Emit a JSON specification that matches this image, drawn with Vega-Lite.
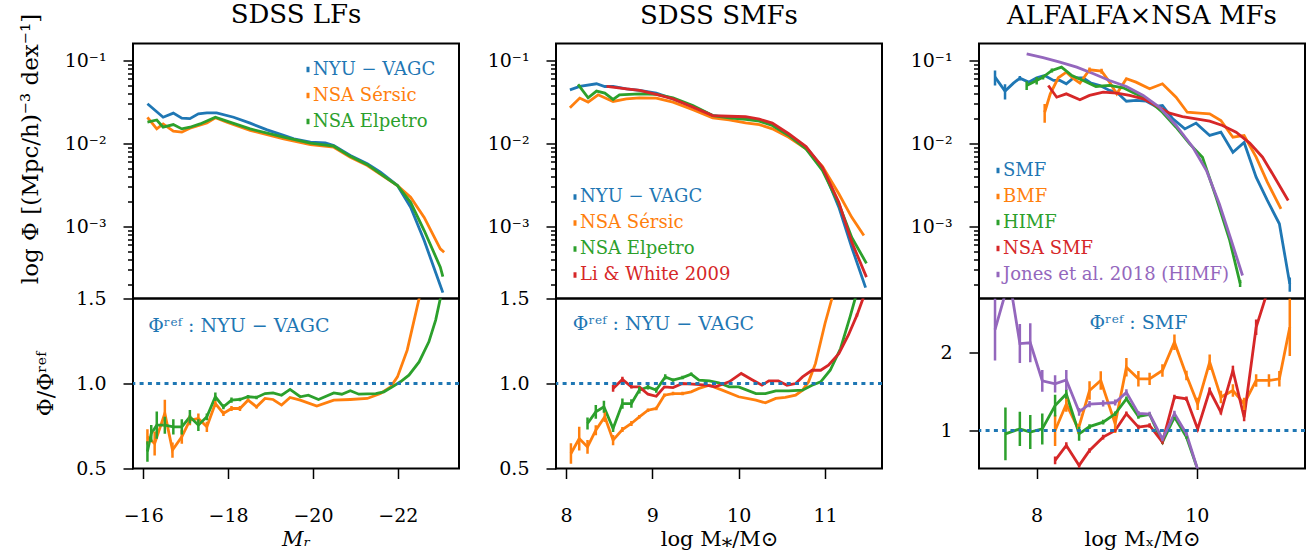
{
"$schema": "https://vega.github.io/schema/vega-lite/v6.json",
"background": "white",
"padding": {"left": 17, "top": 0.5, "right": 5, "bottom": 5},
"datasets": {
"lf_top": [
{"s":"NYU − VAGC","x":-16.10,"y":0.0301},{"s":"NYU − VAGC","x":-16.47,"y":0.0207},{"s":"NYU − VAGC","x":-16.71,"y":0.0232},{"s":"NYU − VAGC","x":-16.91,"y":0.0202},{"s":"NYU − VAGC","x":-17.10,"y":0.0199},{"s":"NYU − VAGC","x":-17.30,"y":0.0228},{"s":"NYU − VAGC","x":-17.50,"y":0.0234},{"s":"NYU − VAGC","x":-17.73,"y":0.0234},{"s":"NYU − VAGC","x":-18.13,"y":0.0207},{"s":"NYU − VAGC","x":-18.52,"y":0.0176},{"s":"NYU − VAGC","x":-18.92,"y":0.0146},{"s":"NYU − VAGC","x":-19.31,"y":0.0125},{"s":"NYU − VAGC","x":-19.55,"y":0.0114},{"s":"NYU − VAGC","x":-19.94,"y":0.01037},{"s":"NYU − VAGC","x":-20.29,"y":0.0102},{"s":"NYU − VAGC","x":-20.49,"y":0.00946},{"s":"NYU − VAGC","x":-20.88,"y":0.00716},{"s":"NYU − VAGC","x":-21.28,"y":0.00569},{"s":"NYU − VAGC","x":-21.59,"y":0.00452},{"s":"NYU − VAGC","x":-21.99,"y":0.00312},{"s":"NYU − VAGC","x":-22.30,"y":0.00171},{"s":"NYU − VAGC","x":-22.62,"y":0.000678},{"s":"NYU − VAGC","x":-23.0,"y":0.000195},{"s":"NYU − VAGC","x":-23.06,"y":0.00016},
{"s":"NSA Sérsic","x":-16.10,"y":0.0207},{"s":"NSA Sérsic","x":-16.32,"y":0.0150},{"s":"NSA Sérsic","x":-16.47,"y":0.0172},{"s":"NSA Sérsic","x":-16.71,"y":0.0141},{"s":"NSA Sérsic","x":-16.91,"y":0.0137},{"s":"NSA Sérsic","x":-17.10,"y":0.0153},{"s":"NSA Sérsic","x":-17.50,"y":0.0177},{"s":"NSA Sérsic","x":-17.70,"y":0.0204},{"s":"NSA Sérsic","x":-17.97,"y":0.0181},{"s":"NSA Sérsic","x":-18.52,"y":0.0144},{"s":"NSA Sérsic","x":-19.31,"y":0.0114},{"s":"NSA Sérsic","x":-19.94,"y":0.00972},{"s":"NSA Sérsic","x":-20.49,"y":0.00903},{"s":"NSA Sérsic","x":-20.88,"y":0.00684},{"s":"NSA Sérsic","x":-21.28,"y":0.00543},{"s":"NSA Sérsic","x":-21.99,"y":0.00312},{"s":"NSA Sérsic","x":-22.30,"y":0.00225},{"s":"NSA Sérsic","x":-22.62,"y":0.00129},{"s":"NSA Sérsic","x":-23.0,"y":0.00054},{"s":"NSA Sérsic","x":-23.09,"y":0.00049},
{"s":"NSA Elpetro","x":-16.10,"y":0.0181},{"s":"NSA Elpetro","x":-16.32,"y":0.0192},{"s":"NSA Elpetro","x":-16.47,"y":0.0157},{"s":"NSA Elpetro","x":-16.71,"y":0.0169},{"s":"NSA Elpetro","x":-16.91,"y":0.0150},{"s":"NSA Elpetro","x":-17.10,"y":0.0157},{"s":"NSA Elpetro","x":-17.34,"y":0.0172},{"s":"NSA Elpetro","x":-17.70,"y":0.0207},{"s":"NSA Elpetro","x":-17.97,"y":0.0186},{"s":"NSA Elpetro","x":-18.52,"y":0.0150},{"s":"NSA Elpetro","x":-19.31,"y":0.0119},{"s":"NSA Elpetro","x":-19.94,"y":0.0101},{"s":"NSA Elpetro","x":-20.49,"y":0.00928},{"s":"NSA Elpetro","x":-20.88,"y":0.0070},{"s":"NSA Elpetro","x":-21.28,"y":0.00556},{"s":"NSA Elpetro","x":-21.99,"y":0.00312},{"s":"NSA Elpetro","x":-22.30,"y":0.00196},{"s":"NSA Elpetro","x":-22.62,"y":0.000895},{"s":"NSA Elpetro","x":-23.0,"y":0.000324},{"s":"NSA Elpetro","x":-23.06,"y":0.00025}
],
"lf_ratio": [
{"s":"NSA Sérsic","x":-16.10,"y":0.686,"e":0.045},{"s":"NSA Sérsic","x":-16.27,"y":0.647,"e":0.07},{"s":"NSA Sérsic","x":-16.51,"y":0.824,"e":0.08},{"s":"NSA Sérsic","x":-16.69,"y":0.608,"e":0.045},{"s":"NSA Sérsic","x":-16.91,"y":0.686,"e":0.04},{"s":"NSA Sérsic","x":-17.10,"y":0.784,"e":0.03},{"s":"NSA Sérsic","x":-17.30,"y":0.794,"e":0.03},{"s":"NSA Sérsic","x":-17.50,"y":0.745,"e":0.03},{"s":"NSA Sérsic","x":-17.70,"y":0.882,"e":0.02},{"s":"NSA Sérsic","x":-17.89,"y":0.824,"e":0.015},{"s":"NSA Sérsic","x":-18.08,"y":0.853,"e":0.015},{"s":"NSA Sérsic","x":-18.28,"y":0.853,"e":0.015},{"s":"NSA Sérsic","x":-18.47,"y":0.902,"e":0.01},{"s":"NSA Sérsic","x":-18.67,"y":0.863,"e":0.01},{"s":"NSA Sérsic","x":-18.87,"y":0.912,"e":0},{"s":"NSA Sérsic","x":-19.06,"y":0.906,"e":0},{"s":"NSA Sérsic","x":-19.26,"y":0.873,"e":0},{"s":"NSA Sérsic","x":-19.46,"y":0.918,"e":0},{"s":"NSA Sérsic","x":-19.70,"y":0.902,"e":0},{"s":"NSA Sérsic","x":-20.09,"y":0.867,"e":0},{"s":"NSA Sérsic","x":-20.49,"y":0.902,"e":0},{"s":"NSA Sérsic","x":-20.88,"y":0.906,"e":0},{"s":"NSA Sérsic","x":-21.28,"y":0.912,"e":0},{"s":"NSA Sérsic","x":-21.59,"y":0.941,"e":0},{"s":"NSA Sérsic","x":-21.83,"y":0.980,"e":0},{"s":"NSA Sérsic","x":-21.99,"y":1.039,"e":0},{"s":"NSA Sérsic","x":-22.22,"y":1.196,"e":0},{"s":"NSA Sérsic","x":-22.50,"y":1.5,"e":0},{"s":"NSA Sérsic","x":-22.75,"y":2.0,"e":0},{"s":"NSA Sérsic","x":-23.1,"y":3.0,"e":0},
{"s":"NSA Elpetro","x":-16.10,"y":0.60,"e":0.06},{"s":"NSA Elpetro","x":-16.19,"y":0.706,"e":0.05},{"s":"NSA Elpetro","x":-16.32,"y":0.755,"e":0.08},{"s":"NSA Elpetro","x":-16.51,"y":0.755,"e":0.05},{"s":"NSA Elpetro","x":-16.71,"y":0.745,"e":0.045},{"s":"NSA Elpetro","x":-16.91,"y":0.745,"e":0.045},{"s":"NSA Elpetro","x":-17.10,"y":0.804,"e":0.04},{"s":"NSA Elpetro","x":-17.30,"y":0.755,"e":0.035},{"s":"NSA Elpetro","x":-17.50,"y":0.804,"e":0.02},{"s":"NSA Elpetro","x":-17.70,"y":0.922,"e":0.025},{"s":"NSA Elpetro","x":-17.89,"y":0.863,"e":0.015},{"s":"NSA Elpetro","x":-18.08,"y":0.902,"e":0.015},{"s":"NSA Elpetro","x":-18.28,"y":0.906,"e":0.01},{"s":"NSA Elpetro","x":-18.47,"y":0.922,"e":0.01},{"s":"NSA Elpetro","x":-18.67,"y":0.918,"e":0.01},{"s":"NSA Elpetro","x":-18.87,"y":0.941,"e":0},{"s":"NSA Elpetro","x":-19.06,"y":0.945,"e":0},{"s":"NSA Elpetro","x":-19.26,"y":0.931,"e":0},{"s":"NSA Elpetro","x":-19.46,"y":0.965,"e":0},{"s":"NSA Elpetro","x":-19.70,"y":0.922,"e":0},{"s":"NSA Elpetro","x":-19.89,"y":0.931,"e":0},{"s":"NSA Elpetro","x":-20.13,"y":0.906,"e":0},{"s":"NSA Elpetro","x":-20.49,"y":0.945,"e":0},{"s":"NSA Elpetro","x":-20.68,"y":0.937,"e":0},{"s":"NSA Elpetro","x":-20.88,"y":0.957,"e":0},{"s":"NSA Elpetro","x":-21.08,"y":0.937,"e":0},{"s":"NSA Elpetro","x":-21.48,"y":0.941,"e":0},{"s":"NSA Elpetro","x":-21.67,"y":0.951,"e":0},{"s":"NSA Elpetro","x":-21.87,"y":0.980,"e":0},{"s":"NSA Elpetro","x":-22.06,"y":1.010,"e":0},{"s":"NSA Elpetro","x":-22.26,"y":1.049,"e":0},{"s":"NSA Elpetro","x":-22.50,"y":1.127,"e":0},{"s":"NSA Elpetro","x":-22.73,"y":1.245,"e":0},{"s":"NSA Elpetro","x":-22.89,"y":1.373,"e":0},{"s":"NSA Elpetro","x":-23.0,"y":1.5,"e":0},{"s":"NSA Elpetro","x":-23.06,"y":1.6,"e":0}
],
"smf_top": [
{"s":"NYU − VAGC","x":8.046,"y":0.0443},{"s":"NYU − VAGC","x":8.16,"y":0.0486},{"s":"NYU − VAGC","x":8.354,"y":0.0524},{"s":"NYU − VAGC","x":8.45,"y":0.0486},{"s":"NYU − VAGC","x":8.546,"y":0.0486},{"s":"NYU − VAGC","x":8.70,"y":0.0456},{"s":"NYU − VAGC","x":8.854,"y":0.0435},{"s":"NYU − VAGC","x":9.046,"y":0.0404},{"s":"NYU − VAGC","x":9.24,"y":0.0345},{"s":"NYU − VAGC","x":9.47,"y":0.0279},{"s":"NYU − VAGC","x":9.70,"y":0.0217},{"s":"NYU − VAGC","x":9.89,"y":0.0207},{"s":"NYU − VAGC","x":10.08,"y":0.0204},{"s":"NYU − VAGC","x":10.24,"y":0.0193},{"s":"NYU − VAGC","x":10.39,"y":0.0172},{"s":"NYU − VAGC","x":10.58,"y":0.0125},{"s":"NYU − VAGC","x":10.78,"y":0.00903},{"s":"NYU − VAGC","x":10.97,"y":0.00519},{"s":"NYU − VAGC","x":11.16,"y":0.00171},{"s":"NYU − VAGC","x":11.31,"y":0.00056},{"s":"NYU − VAGC","x":11.47,"y":0.000184},
{"s":"NSA Sérsic","x":8.046,"y":0.0269},{"s":"NSA Sérsic","x":8.16,"y":0.0352},{"s":"NSA Sérsic","x":8.257,"y":0.0315},{"s":"NSA Sérsic","x":8.373,"y":0.0386},{"s":"NSA Sérsic","x":8.546,"y":0.0321},{"s":"NSA Sérsic","x":8.70,"y":0.0345},{"s":"NSA Sérsic","x":8.854,"y":0.0355},{"s":"NSA Sérsic","x":9.046,"y":0.0352},{"s":"NSA Sérsic","x":9.24,"y":0.0315},{"s":"NSA Sérsic","x":9.47,"y":0.0255},{"s":"NSA Sérsic","x":9.70,"y":0.0204},{"s":"NSA Sérsic","x":9.89,"y":0.0193},{"s":"NSA Sérsic","x":10.08,"y":0.0177},{"s":"NSA Sérsic","x":10.24,"y":0.0169},{"s":"NSA Sérsic","x":10.39,"y":0.0150},{"s":"NSA Sérsic","x":10.58,"y":0.0119},{"s":"NSA Sérsic","x":10.78,"y":0.00863},{"s":"NSA Sérsic","x":10.97,"y":0.0053},{"s":"NSA Sérsic","x":11.16,"y":0.00248},{"s":"NSA Sérsic","x":11.31,"y":0.00129},{"s":"NSA Sérsic","x":11.45,"y":0.00078},
{"s":"NSA Elpetro","x":8.14,"y":0.0514},{"s":"NSA Elpetro","x":8.257,"y":0.0355},{"s":"NSA Elpetro","x":8.354,"y":0.0428},{"s":"NSA Elpetro","x":8.45,"y":0.0404},{"s":"NSA Elpetro","x":8.546,"y":0.0339},{"s":"NSA Elpetro","x":8.62,"y":0.0386},{"s":"NSA Elpetro","x":8.854,"y":0.0396},{"s":"NSA Elpetro","x":9.046,"y":0.0390},{"s":"NSA Elpetro","x":9.24,"y":0.0355},{"s":"NSA Elpetro","x":9.47,"y":0.0287},{"s":"NSA Elpetro","x":9.70,"y":0.0217},{"s":"NSA Elpetro","x":9.89,"y":0.0204},{"s":"NSA Elpetro","x":10.08,"y":0.0195},{"s":"NSA Elpetro","x":10.24,"y":0.0186},{"s":"NSA Elpetro","x":10.39,"y":0.0165},{"s":"NSA Elpetro","x":10.58,"y":0.0125},{"s":"NSA Elpetro","x":10.78,"y":0.00863},{"s":"NSA Elpetro","x":10.97,"y":0.00473},{"s":"NSA Elpetro","x":11.16,"y":0.00188},{"s":"NSA Elpetro","x":11.31,"y":0.00074},{"s":"NSA Elpetro","x":11.48,"y":0.00036},
{"s":"Li & White 2009","x":8.47,"y":0.0486},{"s":"Li & White 2009","x":8.70,"y":0.0456},{"s":"Li & White 2009","x":8.854,"y":0.0435},{"s":"Li & White 2009","x":9.046,"y":0.0390},{"s":"Li & White 2009","x":9.24,"y":0.0345},{"s":"Li & White 2009","x":9.47,"y":0.0274},{"s":"Li & White 2009","x":9.70,"y":0.0217},{"s":"Li & White 2009","x":9.89,"y":0.0213},{"s":"Li & White 2009","x":10.08,"y":0.0210},{"s":"Li & White 2009","x":10.24,"y":0.0196},{"s":"Li & White 2009","x":10.39,"y":0.0176},{"s":"Li & White 2009","x":10.58,"y":0.0131},{"s":"Li & White 2009","x":10.78,"y":0.0092},{"s":"Li & White 2009","x":10.97,"y":0.00519},{"s":"Li & White 2009","x":11.16,"y":0.00196},{"s":"Li & White 2009","x":11.31,"y":0.00065},{"s":"Li & White 2009","x":11.48,"y":0.000246}
],
"smf_ratio": [
{"s":"NSA Sérsic","x":8.058,"y":0.588,"e":0.06},{"s":"NSA Sérsic","x":8.154,"y":0.676,"e":0.07},{"s":"NSA Sérsic","x":8.25,"y":0.627,"e":0.04},{"s":"NSA Sérsic","x":8.346,"y":0.725,"e":0.03},{"s":"NSA Sérsic","x":8.45,"y":0.804,"e":0.03},{"s":"NSA Sérsic","x":8.546,"y":0.667,"e":0.03},{"s":"NSA Sérsic","x":8.654,"y":0.729,"e":0.015},{"s":"NSA Sérsic","x":8.758,"y":0.765,"e":0.015},{"s":"NSA Sérsic","x":8.85,"y":0.804,"e":0.01},{"s":"NSA Sérsic","x":8.95,"y":0.843,"e":0.01},{"s":"NSA Sérsic","x":9.046,"y":0.853,"e":0.01},{"s":"NSA Sérsic","x":9.14,"y":0.931,"e":0.01},{"s":"NSA Sérsic","x":9.24,"y":0.941,"e":0.01},{"s":"NSA Sérsic","x":9.35,"y":0.941,"e":0.01},{"s":"NSA Sérsic","x":9.45,"y":0.951,"e":0},{"s":"NSA Sérsic","x":9.54,"y":0.971,"e":0},{"s":"NSA Sérsic","x":9.66,"y":0.990,"e":0},{"s":"NSA Sérsic","x":9.81,"y":0.961,"e":0},{"s":"NSA Sérsic","x":10.0,"y":0.922,"e":0},{"s":"NSA Sérsic","x":10.2,"y":0.902,"e":0},{"s":"NSA Sérsic","x":10.31,"y":0.886,"e":0},{"s":"NSA Sérsic","x":10.43,"y":0.912,"e":0},{"s":"NSA Sérsic","x":10.54,"y":0.918,"e":0},{"s":"NSA Sérsic","x":10.66,"y":0.931,"e":0},{"s":"NSA Sérsic","x":10.74,"y":0.961,"e":0},{"s":"NSA Sérsic","x":10.81,"y":1.010,"e":0},{"s":"NSA Sérsic","x":10.89,"y":1.118,"e":0},{"s":"NSA Sérsic","x":11.0,"y":1.353,"e":0},{"s":"NSA Sérsic","x":11.08,"y":1.5,"e":0},{"s":"NSA Sérsic","x":11.2,"y":1.9,"e":0},{"s":"NSA Sérsic","x":11.45,"y":3.5,"e":0},
{"s":"NSA Elpetro","x":8.25,"y":0.765,"e":0.035},{"s":"NSA Elpetro","x":8.346,"y":0.833,"e":0.04},{"s":"NSA Elpetro","x":8.44,"y":0.863,"e":0.035},{"s":"NSA Elpetro","x":8.546,"y":0.735,"e":0.02},{"s":"NSA Elpetro","x":8.654,"y":0.882,"e":0.03},{"s":"NSA Elpetro","x":8.758,"y":0.882,"e":0.025},{"s":"NSA Elpetro","x":8.85,"y":0.961,"e":0.02},{"s":"NSA Elpetro","x":8.95,"y":0.980,"e":0.015},{"s":"NSA Elpetro","x":9.046,"y":0.961,"e":0.015},{"s":"NSA Elpetro","x":9.15,"y":1.039,"e":0.015},{"s":"NSA Elpetro","x":9.24,"y":1.020,"e":0.01},{"s":"NSA Elpetro","x":9.35,"y":1.035,"e":0.01},{"s":"NSA Elpetro","x":9.45,"y":1.055,"e":0.01},{"s":"NSA Elpetro","x":9.54,"y":1.020,"e":0},{"s":"NSA Elpetro","x":9.66,"y":1.016,"e":0},{"s":"NSA Elpetro","x":9.77,"y":1.004,"e":0},{"s":"NSA Elpetro","x":9.89,"y":0.980,"e":0},{"s":"NSA Elpetro","x":10.0,"y":0.980,"e":0},{"s":"NSA Elpetro","x":10.2,"y":0.941,"e":0},{"s":"NSA Elpetro","x":10.31,"y":0.941,"e":0},{"s":"NSA Elpetro","x":10.43,"y":0.957,"e":0},{"s":"NSA Elpetro","x":10.58,"y":0.957,"e":0},{"s":"NSA Elpetro","x":10.74,"y":0.961,"e":0},{"s":"NSA Elpetro","x":10.85,"y":0.990,"e":0},{"s":"NSA Elpetro","x":10.95,"y":1.010,"e":0},{"s":"NSA Elpetro","x":11.06,"y":1.078,"e":0},{"s":"NSA Elpetro","x":11.18,"y":1.206,"e":0},{"s":"NSA Elpetro","x":11.29,"y":1.392,"e":0},{"s":"NSA Elpetro","x":11.35,"y":1.5,"e":0},{"s":"NSA Elpetro","x":11.45,"y":1.75,"e":0},
{"s":"Li & White 2009","x":8.546,"y":0.971,"e":0.02},{"s":"Li & White 2009","x":8.654,"y":1.024,"e":0.015},{"s":"Li & White 2009","x":8.758,"y":0.980,"e":0.01},{"s":"Li & White 2009","x":8.85,"y":0.980,"e":0},{"s":"Li & White 2009","x":8.95,"y":0.937,"e":0},{"s":"Li & White 2009","x":9.046,"y":0.925,"e":0},{"s":"Li & White 2009","x":9.14,"y":0.980,"e":0},{"s":"Li & White 2009","x":9.24,"y":0.976,"e":0},{"s":"Li & White 2009","x":9.35,"y":1.0,"e":0},{"s":"Li & White 2009","x":9.47,"y":0.996,"e":0},{"s":"Li & White 2009","x":9.62,"y":0.990,"e":0},{"s":"Li & White 2009","x":9.73,"y":0.980,"e":0},{"s":"Li & White 2009","x":9.89,"y":1.010,"e":0},{"s":"Li & White 2009","x":10.03,"y":1.059,"e":0},{"s":"Li & White 2009","x":10.15,"y":1.024,"e":0},{"s":"Li & White 2009","x":10.27,"y":0.990,"e":0},{"s":"Li & White 2009","x":10.35,"y":1.016,"e":0},{"s":"Li & White 2009","x":10.46,"y":1.016,"e":0},{"s":"Li & White 2009","x":10.56,"y":0.990,"e":0},{"s":"Li & White 2009","x":10.66,"y":1.0,"e":0},{"s":"Li & White 2009","x":10.74,"y":1.039,"e":0},{"s":"Li & White 2009","x":10.85,"y":1.078,"e":0},{"s":"Li & White 2009","x":10.95,"y":1.078,"e":0},{"s":"Li & White 2009","x":11.04,"y":1.108,"e":0},{"s":"Li & White 2009","x":11.16,"y":1.176,"e":0},{"s":"Li & White 2009","x":11.27,"y":1.284,"e":0},{"s":"Li & White 2009","x":11.37,"y":1.402,"e":0.01},{"s":"Li & White 2009","x":11.44,"y":1.5,"e":0},{"s":"Li & White 2009","x":11.48,"y":1.6,"e":0}
],
"mf_top": [
{"s":"SMF","x":7.48,"y":0.0629,"e":0.013},{"s":"SMF","x":7.605,"y":0.0428,"e":0.009},{"s":"SMF","x":7.71,"y":0.0533,"e":0},{"s":"SMF","x":7.79,"y":0.0612,"e":0.004},{"s":"SMF","x":7.90,"y":0.0548,"e":0},{"s":"SMF","x":8.0,"y":0.0618,"e":0},{"s":"SMF","x":8.10,"y":0.0659,"e":0},{"s":"SMF","x":8.21,"y":0.0574,"e":0},{"s":"SMF","x":8.29,"y":0.0574,"e":0},{"s":"SMF","x":8.37,"y":0.0524,"e":0},{"s":"SMF","x":8.46,"y":0.0618,"e":0},{"s":"SMF","x":8.58,"y":0.0618,"e":0},{"s":"SMF","x":8.68,"y":0.0533,"e":0},{"s":"SMF","x":8.79,"y":0.0500,"e":0},{"s":"SMF","x":8.91,"y":0.0435,"e":0},{"s":"SMF","x":9.0,"y":0.0415,"e":0},{"s":"SMF","x":9.12,"y":0.0323,"e":0},{"s":"SMF","x":9.24,"y":0.0330,"e":0},{"s":"SMF","x":9.37,"y":0.0323,"e":0},{"s":"SMF","x":9.49,"y":0.0279,"e":0},{"s":"SMF","x":9.57,"y":0.0287,"e":0},{"s":"SMF","x":9.70,"y":0.0198,"e":0},{"s":"SMF","x":9.85,"y":0.0150,"e":0},{"s":"SMF","x":9.99,"y":0.0176,"e":0},{"s":"SMF","x":10.16,"y":0.0125,"e":0},{"s":"SMF","x":10.30,"y":0.0137,"e":0},{"s":"SMF","x":10.45,"y":0.00785,"e":0},{"s":"SMF","x":10.59,"y":0.0103,"e":0},{"s":"SMF","x":10.74,"y":0.00393,"e":0},{"s":"SMF","x":10.88,"y":0.00206,"e":0},{"s":"SMF","x":11.03,"y":0.00108,"e":0},{"s":"SMF","x":11.16,"y":0.000204,"e":0.00004},
{"s":"BMF","x":8.10,"y":0.0238,"e":0.006},{"s":"BMF","x":8.17,"y":0.0396,"e":0},{"s":"BMF","x":8.27,"y":0.0618,"e":0},{"s":"BMF","x":8.37,"y":0.0722,"e":0},{"s":"BMF","x":8.46,"y":0.0602,"e":0},{"s":"BMF","x":8.54,"y":0.0533,"e":0},{"s":"BMF","x":8.66,"y":0.0773,"e":0.005},{"s":"BMF","x":8.81,"y":0.0744,"e":0.005},{"s":"BMF","x":8.91,"y":0.0548,"e":0},{"s":"BMF","x":9.0,"y":0.0396,"e":0},{"s":"BMF","x":9.12,"y":0.0602,"e":0},{"s":"BMF","x":9.24,"y":0.0548,"e":0},{"s":"BMF","x":9.41,"y":0.0456,"e":0},{"s":"BMF","x":9.57,"y":0.0524,"e":0},{"s":"BMF","x":9.74,"y":0.0361,"e":0},{"s":"BMF","x":9.88,"y":0.0238,"e":0},{"s":"BMF","x":10.03,"y":0.0232,"e":0},{"s":"BMF","x":10.16,"y":0.0228,"e":0},{"s":"BMF","x":10.30,"y":0.0189,"e":0},{"s":"BMF","x":10.45,"y":0.0119,"e":0},{"s":"BMF","x":10.59,"y":0.0125,"e":0},{"s":"BMF","x":10.74,"y":0.00684,"e":0},{"s":"BMF","x":10.88,"y":0.00342,"e":0},{"s":"BMF","x":11.05,"y":0.00163,"e":0},
{"s":"HIMF","x":7.875,"y":0.0500,"e":0.006},{"s":"HIMF","x":8.0,"y":0.0574,"e":0.006},{"s":"HIMF","x":8.08,"y":0.0629,"e":0.004},{"s":"HIMF","x":8.19,"y":0.0758,"e":0.004},{"s":"HIMF","x":8.31,"y":0.0831,"e":0},{"s":"HIMF","x":8.44,"y":0.0659,"e":0},{"s":"HIMF","x":8.58,"y":0.0574,"e":0},{"s":"HIMF","x":8.74,"y":0.0486,"e":0},{"s":"HIMF","x":8.91,"y":0.0500,"e":0},{"s":"HIMF","x":9.08,"y":0.0469,"e":0},{"s":"HIMF","x":9.24,"y":0.0396,"e":0},{"s":"HIMF","x":9.41,"y":0.0323,"e":0},{"s":"HIMF","x":9.57,"y":0.0238,"e":0},{"s":"HIMF","x":9.74,"y":0.0157,"e":0},{"s":"HIMF","x":9.91,"y":0.0099,"e":0},{"s":"HIMF","x":10.07,"y":0.00684,"e":0},{"s":"HIMF","x":10.24,"y":0.00225,"e":0},{"s":"HIMF","x":10.41,"y":0.00068,"e":0},{"s":"HIMF","x":10.54,"y":0.000207,"e":0.00002},
{"s":"NSA SMF","x":8.145,"y":0.0500,"e":0},{"s":"NSA SMF","x":8.25,"y":0.0361,"e":0},{"s":"NSA SMF","x":8.37,"y":0.0396,"e":0},{"s":"NSA SMF","x":8.54,"y":0.0336,"e":0},{"s":"NSA SMF","x":8.66,"y":0.0379,"e":0},{"s":"NSA SMF","x":8.83,"y":0.0415,"e":0},{"s":"NSA SMF","x":9.0,"y":0.0405,"e":0},{"s":"NSA SMF","x":9.16,"y":0.0379,"e":0},{"s":"NSA SMF","x":9.33,"y":0.0345,"e":0},{"s":"NSA SMF","x":9.49,"y":0.0287,"e":0},{"s":"NSA SMF","x":9.66,"y":0.0232,"e":0},{"s":"NSA SMF","x":9.82,"y":0.0211,"e":0},{"s":"NSA SMF","x":9.99,"y":0.0198,"e":0},{"s":"NSA SMF","x":10.16,"y":0.0186,"e":0},{"s":"NSA SMF","x":10.32,"y":0.0165,"e":0},{"s":"NSA SMF","x":10.49,"y":0.0137,"e":0},{"s":"NSA SMF","x":10.66,"y":0.0101,"e":0},{"s":"NSA SMF","x":10.82,"y":0.00684,"e":0},{"s":"NSA SMF","x":10.97,"y":0.00393,"e":0},{"s":"NSA SMF","x":11.14,"y":0.00206,"e":0},
{"s":"Jones et al. 2018 (HIMF)","x":7.875,"y":0.120,"e":0},{"s":"Jones et al. 2018 (HIMF)","x":8.08,"y":0.108,"e":0},{"s":"Jones et al. 2018 (HIMF)","x":8.29,"y":0.0955,"e":0},{"s":"Jones et al. 2018 (HIMF)","x":8.50,"y":0.0831,"e":0},{"s":"Jones et al. 2018 (HIMF)","x":8.71,"y":0.0692,"e":0},{"s":"Jones et al. 2018 (HIMF)","x":8.91,"y":0.0574,"e":0},{"s":"Jones et al. 2018 (HIMF)","x":9.12,"y":0.0486,"e":0},{"s":"Jones et al. 2018 (HIMF)","x":9.33,"y":0.0379,"e":0},{"s":"Jones et al. 2018 (HIMF)","x":9.53,"y":0.0274,"e":0},{"s":"Jones et al. 2018 (HIMF)","x":9.74,"y":0.0165,"e":0},{"s":"Jones et al. 2018 (HIMF)","x":9.95,"y":0.00903,"e":0},{"s":"Jones et al. 2018 (HIMF)","x":10.12,"y":0.00473,"e":0},{"s":"Jones et al. 2018 (HIMF)","x":10.28,"y":0.00188,"e":0},{"s":"Jones et al. 2018 (HIMF)","x":10.43,"y":0.00068,"e":0},{"s":"Jones et al. 2018 (HIMF)","x":10.57,"y":0.000257,"e":0}
],
"mf_ratio": [
{"s":"BMF","x":8.23,"y":1.0,"e":0.2},{"s":"BMF","x":8.37,"y":1.34,"e":0.1},{"s":"BMF","x":8.52,"y":1.02,"e":0.06},{"s":"BMF","x":8.66,"y":1.515,"e":0.12},{"s":"BMF","x":8.80,"y":1.644,"e":0.12},{"s":"BMF","x":8.98,"y":1.086,"e":0.12},{"s":"BMF","x":9.12,"y":1.815,"e":0.12},{"s":"BMF","x":9.27,"y":1.665,"e":0.1},{"s":"BMF","x":9.41,"y":1.665,"e":0.08},{"s":"BMF","x":9.57,"y":1.773,"e":0.08},{"s":"BMF","x":9.72,"y":2.137,"e":0.1},{"s":"BMF","x":9.87,"y":1.708,"e":0.06},{"s":"BMF","x":10.01,"y":1.343,"e":0.08},{"s":"BMF","x":10.16,"y":1.88,"e":0.1},{"s":"BMF","x":10.30,"y":1.43,"e":0.08},{"s":"BMF","x":10.45,"y":1.515,"e":0.08},{"s":"BMF","x":10.59,"y":1.343,"e":0.08},{"s":"BMF","x":10.74,"y":1.644,"e":0.08},{"s":"BMF","x":10.9,"y":1.644,"e":0.08},{"s":"BMF","x":11.03,"y":1.665,"e":0.1},{"s":"BMF","x":11.16,"y":2.33,"e":0.37},
{"s":"HIMF","x":7.61,"y":0.957,"e":0.34},{"s":"HIMF","x":7.79,"y":1.02,"e":0.22},{"s":"HIMF","x":7.92,"y":0.98,"e":0.22},{"s":"HIMF","x":8.07,"y":1.02,"e":0.2},{"s":"HIMF","x":8.23,"y":1.32,"e":0.14},{"s":"HIMF","x":8.37,"y":1.47,"e":0.06},{"s":"HIMF","x":8.53,"y":0.957,"e":0.09},{"s":"HIMF","x":8.66,"y":1.05,"e":0.03},{"s":"HIMF","x":8.83,"y":1.107,"e":0.03},{"s":"HIMF","x":8.98,"y":1.215,"e":0.03},{"s":"HIMF","x":9.12,"y":1.408,"e":0.03},{"s":"HIMF","x":9.27,"y":1.18,"e":0.03},{"s":"HIMF","x":9.41,"y":1.206,"e":0.02},{"s":"HIMF","x":9.57,"y":0.85,"e":0.02},{"s":"HIMF","x":9.72,"y":1.172,"e":0.02},{"s":"HIMF","x":9.87,"y":0.914,"e":0.02},{"s":"HIMF","x":10.0,"y":0.528,"e":0},
{"s":"NSA SMF","x":8.23,"y":0.614,"e":0.05},{"s":"NSA SMF","x":8.37,"y":0.807,"e":0.04},{"s":"NSA SMF","x":8.53,"y":0.55,"e":0.03},{"s":"NSA SMF","x":8.66,"y":0.742,"e":0.03},{"s":"NSA SMF","x":8.83,"y":0.914,"e":0.03},{"s":"NSA SMF","x":8.98,"y":1.0,"e":0.02},{"s":"NSA SMF","x":9.12,"y":1.215,"e":0.03},{"s":"NSA SMF","x":9.27,"y":1.043,"e":0.03},{"s":"NSA SMF","x":9.41,"y":1.064,"e":0.03},{"s":"NSA SMF","x":9.57,"y":0.85,"e":0.02},{"s":"NSA SMF","x":9.72,"y":1.429,"e":0.03},{"s":"NSA SMF","x":9.87,"y":1.408,"e":0.03},{"s":"NSA SMF","x":10.01,"y":1.02,"e":0.03},{"s":"NSA SMF","x":10.16,"y":1.515,"e":0.04},{"s":"NSA SMF","x":10.30,"y":1.236,"e":0.03},{"s":"NSA SMF","x":10.45,"y":1.773,"e":0.06},{"s":"NSA SMF","x":10.59,"y":1.17,"e":0.05},{"s":"NSA SMF","x":10.74,"y":2.33,"e":0.1},{"s":"NSA SMF","x":10.9,"y":2.85,"e":0},{"s":"NSA SMF","x":11.1,"y":3.5,"e":0},
{"s":"Jones et al. 2018 (HIMF)","x":7.48,"y":2.3,"e":0.4},{"s":"Jones et al. 2018 (HIMF)","x":7.66,"y":2.95,"e":0},{"s":"Jones et al. 2018 (HIMF)","x":7.79,"y":2.12,"e":0.25},{"s":"Jones et al. 2018 (HIMF)","x":7.92,"y":2.13,"e":0.25},{"s":"Jones et al. 2018 (HIMF)","x":8.07,"y":1.64,"e":0.14},{"s":"Jones et al. 2018 (HIMF)","x":8.23,"y":1.60,"e":0.11},{"s":"Jones et al. 2018 (HIMF)","x":8.37,"y":1.65,"e":0.13},{"s":"Jones et al. 2018 (HIMF)","x":8.53,"y":1.24,"e":0.05},{"s":"Jones et al. 2018 (HIMF)","x":8.66,"y":1.34,"e":0.04},{"s":"Jones et al. 2018 (HIMF)","x":8.83,"y":1.35,"e":0.04},{"s":"Jones et al. 2018 (HIMF)","x":8.98,"y":1.36,"e":0.04},{"s":"Jones et al. 2018 (HIMF)","x":9.12,"y":1.49,"e":0.04},{"s":"Jones et al. 2018 (HIMF)","x":9.27,"y":1.22,"e":0.03},{"s":"Jones et al. 2018 (HIMF)","x":9.41,"y":1.21,"e":0.03},{"s":"Jones et al. 2018 (HIMF)","x":9.57,"y":0.89,"e":0.03},{"s":"Jones et al. 2018 (HIMF)","x":9.72,"y":1.215,"e":0.04},{"s":"Jones et al. 2018 (HIMF)","x":9.87,"y":0.957,"e":0.03},{"s":"Jones et al. 2018 (HIMF)","x":10.0,"y":0.53,"e":0},{"s":"Jones et al. 2018 (HIMF)","x":10.05,"y":0.4,"e":0}
]
},
"columns": 3,
"spacing": {"row": 0, "column": 97},
"bounds": "flush",
"resolve": {"scale": {"color": "independent", "x": "independent", "y": "independent"}, "legend": {"color": "independent"}},
"concat": [
 {"width": 326, "height": 255,
  "title": {"text": "SDSS LFs", "frame": "group", "dy": 29.5},
  "data": {"name": "lf_top"},
  "mark": {"type": "line", "strokeWidth": 2.8, "clip": true},
  "encoding": {
   "x": {"field": "x", "type": "quantitative", "scale": {"domain": [-23.44, -15.76], "reverse": true, "nice": false, "zero": false}, "axis": null},
   "y": {"field": "y", "type": "quantitative", "scale": {"type": "log", "domain": [0.000136, 0.16], "nice": false},
     "axis": {"title": "log Φ [(Mpc/h)⁻³ dex⁻¹]", "titleFontSize": 23, "titleX": -96, "titleY": 105, "titleBaseline": "alphabetic", "titleAlign": "center", "titleAngle": -90,
       "values": [0.0002,0.0003,0.0004,0.0005,0.0006,0.0007,0.0008,0.0009,0.001,0.002,0.003,0.004,0.005,0.006,0.007,0.008,0.009,0.01,0.02,0.03,0.04,0.05,0.06,0.07,0.08,0.09,0.1],
       "labelExpr": "datum.value == 0.1 ? '10⁻¹' : datum.value == 0.01 ? '10⁻²' : datum.value == 0.001 ? '10⁻³' : ''",
       "tickSize": {"condition": {"test": "datum.value == 0.1 || datum.value == 0.01 || datum.value == 0.001", "value": 10}, "value": 5.5},
       "labelOverlap": false}},
   "color": {"field": "s", "type": "nominal", "scale": {"domain": ["NYU − VAGC", "NSA Sérsic", "NSA Elpetro"], "range": ["#1f77b4", "#ff7f0e", "#2ca02c"]},
     "legend": {"orient": "none", "legendX": 166, "legendY": 17, "title": null, "symbolType": "M0,-1L0,1", "symbolSize": 30, "symbolStrokeWidth": 3, "rowPadding": 8, "labelOffset": -4, "labelFontSize": 18,
       "encode": {"labels": {"update": {"fill": {"signal": "datum.value == 'NYU − VAGC' || datum.value == 'SMF' ? '#1f77b4' : datum.value == 'NSA Sérsic' || datum.value == 'BMF' ? '#ff7f0e' : datum.value == 'NSA Elpetro' || datum.value == 'HIMF' ? '#2ca02c' : datum.value == 'Li & White 2009' || datum.value == 'NSA SMF' ? '#d62728' : '#9467bd'"}}}}}}
  }
 },
 {"width": 326, "height": 255,
  "title": {"text": "SDSS SMFs", "frame": "group"},
  "data": {"name": "smf_top"},
  "mark": {"type": "line", "strokeWidth": 2.8, "clip": true},
  "encoding": {
   "x": {"field": "x", "type": "quantitative", "scale": {"domain": [7.885, 11.66], "nice": false, "zero": false}, "axis": null},
   "y": {"field": "y", "type": "quantitative", "scale": {"type": "log", "domain": [0.000136, 0.16], "nice": false},
     "axis": {"title": null, "values": [0.0002,0.0003,0.0004,0.0005,0.0006,0.0007,0.0008,0.0009,0.001,0.002,0.003,0.004,0.005,0.006,0.007,0.008,0.009,0.01,0.02,0.03,0.04,0.05,0.06,0.07,0.08,0.09,0.1],
       "labelExpr": "datum.value == 0.1 ? '10⁻¹' : datum.value == 0.01 ? '10⁻²' : datum.value == 0.001 ? '10⁻³' : ''",
       "tickSize": {"condition": {"test": "datum.value == 0.1 || datum.value == 0.01 || datum.value == 0.001", "value": 10}, "value": 5.5},
       "labelOverlap": false}},
   "color": {"field": "s", "type": "nominal", "scale": {"domain": ["NYU − VAGC", "NSA Sérsic", "NSA Elpetro", "Li & White 2009"], "range": ["#1f77b4", "#ff7f0e", "#2ca02c", "#d62728"]},
     "legend": {"orient": "none", "legendX": 10, "legendY": 144.5, "title": null, "symbolType": "M0,-1L0,1", "symbolSize": 30, "symbolStrokeWidth": 3, "rowPadding": 8, "labelOffset": -4, "labelFontSize": 18,
       "encode": {"labels": {"update": {"fill": {"signal": "datum.value == 'NYU − VAGC' || datum.value == 'SMF' ? '#1f77b4' : datum.value == 'NSA Sérsic' || datum.value == 'BMF' ? '#ff7f0e' : datum.value == 'NSA Elpetro' || datum.value == 'HIMF' ? '#2ca02c' : datum.value == 'Li & White 2009' || datum.value == 'NSA SMF' ? '#d62728' : '#9467bd'"}}}}}}
  }
 },
 {"width": 326, "height": 255,
  "title": {"text": "ALFALFA×NSA MFs", "frame": "group"},
  "layer": [
   {"data": {"name": "mf_top"}, "mark": {"type": "line", "strokeWidth": 2.8, "clip": true},
    "encoding": {
     "x": {"field": "x", "type": "quantitative", "scale": {"domain": [7.28, 11.35], "nice": false, "zero": false}, "axis": null},
     "y": {"field": "y", "type": "quantitative", "scale": {"type": "log", "domain": [0.000136, 0.16], "nice": false},
       "axis": {"title": null, "values": [0.0002,0.0003,0.0004,0.0005,0.0006,0.0007,0.0008,0.0009,0.001,0.002,0.003,0.004,0.005,0.006,0.007,0.008,0.009,0.01,0.02,0.03,0.04,0.05,0.06,0.07,0.08,0.09,0.1],
         "labelExpr": "datum.value == 0.1 ? '10⁻¹' : datum.value == 0.01 ? '10⁻²' : datum.value == 0.001 ? '10⁻³' : ''",
         "tickSize": {"condition": {"test": "datum.value == 0.1 || datum.value == 0.01 || datum.value == 0.001", "value": 10}, "value": 5.5},
         "labelOverlap": false}},
     "color": {"field": "s", "type": "nominal", "scale": {"domain": ["SMF", "BMF", "HIMF", "NSA SMF", "Jones et al. 2018 (HIMF)"], "range": ["#1f77b4", "#ff7f0e", "#2ca02c", "#d62728", "#9467bd"]},
       "legend": {"orient": "none", "legendX": 10, "legendY": 118, "title": null, "symbolType": "M0,-1L0,1", "symbolSize": 30, "symbolStrokeWidth": 3, "rowPadding": 8, "labelOffset": -4, "labelFontSize": 18, "labelLimit": 400,
         "encode": {"labels": {"update": {"fill": {"signal": "datum.value == 'NYU − VAGC' || datum.value == 'SMF' ? '#1f77b4' : datum.value == 'NSA Sérsic' || datum.value == 'BMF' ? '#ff7f0e' : datum.value == 'NSA Elpetro' || datum.value == 'HIMF' ? '#2ca02c' : datum.value == 'Li & White 2009' || datum.value == 'NSA SMF' ? '#d62728' : '#9467bd'"}}}}}}}},
   {"data": {"name": "mf_top"}, "mark": {"type": "errorbar", "clip": true, "rule": {"strokeWidth": 2.5}},
    "encoding": {"x": {"field": "x", "type": "quantitative", "axis": null}, "y": {"field": "y", "type": "quantitative", "title": null}, "yError": {"field": "e"}, "color": {"field": "s", "type": "nominal"}}}
  ]
 },
 {"width": 326, "height": 170,
  "layer": [
   {"data": {"name": "lf_ratio"}, "mark": {"type": "line", "strokeWidth": 2.8, "clip": true},
    "encoding": {
     "x": {"field": "x", "type": "quantitative", "scale": {"domain": [-23.44, -15.76], "reverse": true, "nice": false, "zero": false}, "axis": {"values": [-16, -18, -20, -22], "format": "d", "title": "Mᵣ", "titleFontStyle": "italic"}},
     "y": {"field": "y", "type": "quantitative", "scale": {"domain": [0.5, 1.5], "nice": false, "zero": false}, "axis": {"values": [0.5, 1.0, 1.5], "format": ".1f", "title": "Φ/Φʳᵉᶠ", "titleFontSize": 22, "titleX": -81, "titleY": 85, "titleBaseline": "alphabetic", "titleAlign": "center", "titleAngle": -90}},
     "color": {"field": "s", "type": "nominal", "scale": {"domain": ["NYU − VAGC", "NSA Sérsic", "NSA Elpetro"], "range": ["#1f77b4", "#ff7f0e", "#2ca02c"]}, "legend": null}}},
   {"data": {"name": "lf_ratio"}, "mark": {"type": "errorbar", "clip": true, "rule": {"strokeWidth": 2.5}},
    "encoding": {"x": {"field": "x", "type": "quantitative", "title": "Mᵣ"}, "y": {"field": "y", "type": "quantitative", "title": "Φ/Φʳᵉᶠ"}, "yError": {"field": "e"}, "color": {"field": "s", "type": "nominal", "legend": null}}},
   {"data": {"values": [{}]}, "mark": {"type": "rule", "strokeDash": [4, 4.3], "strokeWidth": 3, "color": "#1f77b4"}, "encoding": {"y": {"datum": 1, "type": "quantitative"}}},
   {"data": {"values": [{}]}, "mark": {"type": "text", "align": "left", "baseline": "middle", "fontSize": 19, "color": "#1f77b4"},
    "encoding": {"x": {"datum": -16.12, "type": "quantitative"}, "y": {"datum": 1.34, "type": "quantitative"}, "text": {"value": "Φʳᵉᶠ : NYU − VAGC"}}}
  ]
 },
 {"width": 326, "height": 170,
  "layer": [
   {"data": {"name": "smf_ratio"}, "mark": {"type": "line", "strokeWidth": 2.8, "clip": true},
    "encoding": {
     "x": {"field": "x", "type": "quantitative", "scale": {"domain": [7.885, 11.66], "nice": false, "zero": false}, "axis": {"values": [8, 9, 10, 11], "format": "d", "title": "log M⁎/M⊙"}},
     "y": {"field": "y", "type": "quantitative", "scale": {"domain": [0.5, 1.5], "nice": false, "zero": false}, "axis": {"values": [0.5, 1.0, 1.5], "format": ".1f", "title": null}},
     "color": {"field": "s", "type": "nominal", "scale": {"domain": ["NYU − VAGC", "NSA Sérsic", "NSA Elpetro", "Li & White 2009"], "range": ["#1f77b4", "#ff7f0e", "#2ca02c", "#d62728"]}, "legend": null}}},
   {"data": {"name": "smf_ratio"}, "mark": {"type": "errorbar", "clip": true, "rule": {"strokeWidth": 2.5}},
    "encoding": {"x": {"field": "x", "type": "quantitative"}, "y": {"field": "y", "type": "quantitative"}, "yError": {"field": "e"}, "color": {"field": "s", "type": "nominal", "legend": null}}},
   {"data": {"values": [{}]}, "mark": {"type": "rule", "strokeDash": [4, 4.3], "strokeWidth": 3, "color": "#1f77b4"}, "encoding": {"y": {"datum": 1, "type": "quantitative"}}},
   {"data": {"values": [{}]}, "mark": {"type": "text", "align": "left", "baseline": "middle", "fontSize": 19, "color": "#1f77b4"},
    "encoding": {"x": {"datum": 8.08, "type": "quantitative"}, "y": {"datum": 1.35, "type": "quantitative"}, "text": {"value": "Φʳᵉᶠ : NYU − VAGC"}}}
  ]
 },
 {"width": 326, "height": 170,
  "layer": [
   {"data": {"name": "mf_ratio"}, "mark": {"type": "line", "strokeWidth": 2.8, "clip": true},
    "encoding": {
     "x": {"field": "x", "type": "quantitative", "scale": {"domain": [7.28, 11.35], "nice": false, "zero": false}, "axis": {"values": [8, 10], "format": "d", "title": "log Mₓ/M⊙"}},
     "y": {"field": "y", "type": "quantitative", "scale": {"domain": [0.51, 2.7], "nice": false, "zero": false}, "axis": {"values": [1, 2], "format": "d", "title": null}},
     "color": {"field": "s", "type": "nominal", "scale": {"domain": ["SMF", "BMF", "HIMF", "NSA SMF", "Jones et al. 2018 (HIMF)"], "range": ["#1f77b4", "#ff7f0e", "#2ca02c", "#d62728", "#9467bd"]}, "legend": null}}},
   {"data": {"name": "mf_ratio"}, "mark": {"type": "errorbar", "clip": true, "rule": {"strokeWidth": 2.5}},
    "encoding": {"x": {"field": "x", "type": "quantitative"}, "y": {"field": "y", "type": "quantitative"}, "yError": {"field": "e"}, "color": {"field": "s", "type": "nominal", "legend": null}}},
   {"data": {"values": [{}]}, "mark": {"type": "rule", "strokeDash": [4, 4.3], "strokeWidth": 3, "color": "#1f77b4"}, "encoding": {"y": {"datum": 1, "type": "quantitative"}}},
   {"data": {"values": [{}]}, "mark": {"type": "text", "align": "left", "baseline": "middle", "fontSize": 19, "color": "#1f77b4"},
    "encoding": {"x": {"datum": 8.66, "type": "quantitative"}, "y": {"datum": 2.38, "type": "quantitative"}, "text": {"value": "Φʳᵉᶠ : SMF"}}}
  ]
 }
],
"config": {
 "font": "DejaVu Serif",
 "view": {"stroke": "black", "strokeWidth": 2},
 "axis": {"domain": false, "grid": false, "tickColor": "black", "tickWidth": 1.5, "tickSize": 10, "labelFont": "DejaVu Serif", "labelFontSize": 19, "labelColor": "black", "titleFont": "DejaVu Serif", "titleFontSize": 21, "titleFontWeight": "normal", "titleColor": "black"},
 "axisY": {"labelPadding": 17},
 "axisX": {"labelPadding": 28, "titlePadding": 3},
 "title": {"font": "DejaVu Serif", "fontSize": 26, "fontWeight": "normal", "color": "black", "offset": 14.5},
 "legend": {"labelFont": "DejaVu Serif", "labelFontSize": 18},
 "text": {"font": "DejaVu Serif"}
}
}
